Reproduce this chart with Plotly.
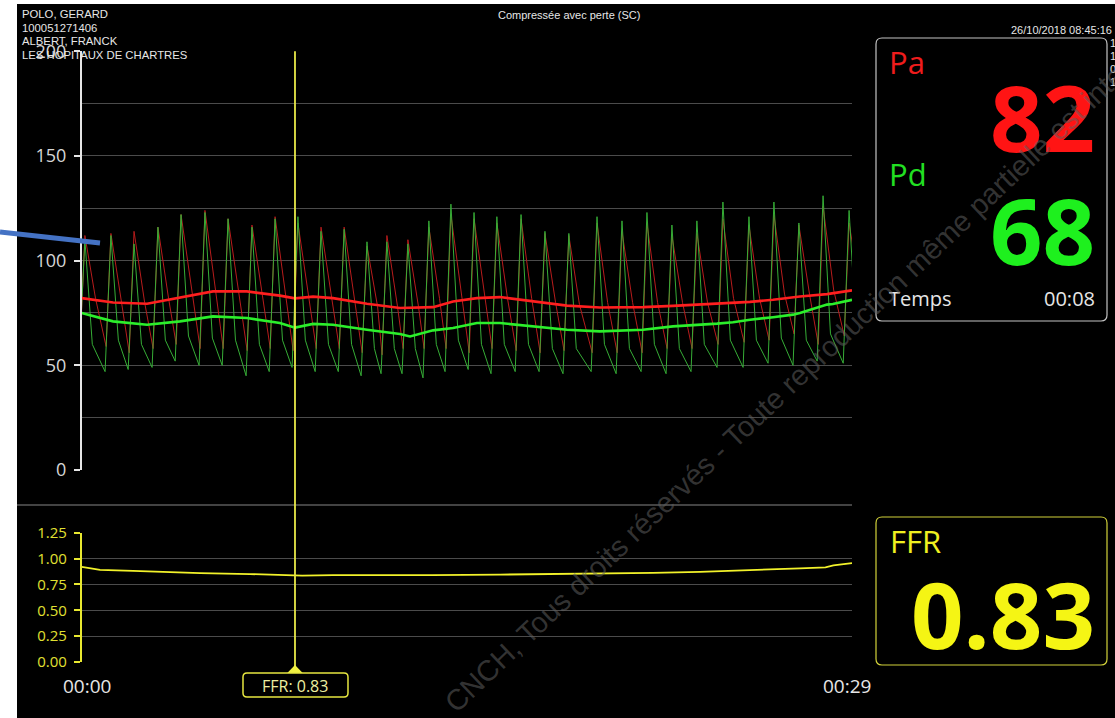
import plotly.graph_objects as go

W, H = 1115, 718

# ---------------- recorded data ----------------
# time of each systolic peak (s)
beat_t = [0.12, 1.10, 1.97, 2.87, 3.74, 4.64, 5.51, 6.41, 7.28, 8.14, 9.01,
          9.88, 10.74, 11.49, 12.28, 13.07, 13.90, 14.77, 15.63, 16.54, 17.44,
          18.34, 19.40, 20.34, 21.28, 22.22, 23.16, 24.14, 25.12, 26.06, 27.00,
          27.91, 28.89]
# distal pressure Pd per beat (mmHg): systolic peak, end of fast fall, diastolic minimum
pd_sys = [110, 112, 108, 116, 122, 123, 120, 116, 120, 121, 114, 115, 109, 109,
          108, 119, 127, 123, 121, 122, 114, 113, 121, 119, 123, 117, 119, 128,
          121, 128, 118, 131, 124]
pd_notch = [60, 62, 60, 62, 64, 63, 62, 60, 62, 62, 60, 60, 58, 58, 58, 60, 62,
            60, 60, 60, 58, 58, 60, 58, 60, 58, 60, 62, 62, 63, 62, 65, 64]
pd_dia = [52, 47, 48, 49, 52, 50, 50, 45, 47, 49, 47, 47, 45, 46, 46, 44, 47,
          48, 46, 47, 47, 46, 47, 46, 47, 46, 47, 49, 49, 51, 50, 52, 51]
# aortic pressure Pa per beat (mmHg)
pa_sys = [112, 113, 114, 116, 122, 124, 120, 117, 121, 118, 116, 116, 107, 112,
          110, 116, 122, 120, 118, 120, 113, 112, 118, 114, 118, 112, 113, 120,
          117, 122, 117, 126, 118]
pa_notch = [82, 80, 80, 82, 86, 86, 84, 83, 84, 82, 82, 82, 78, 78, 78, 82, 84,
            83, 82, 82, 80, 79, 80, 80, 80, 80, 80, 82, 82, 84, 84, 86, 86]
pa_dia = [60, 59, 56, 58, 60, 58, 58, 57, 58, 57, 58, 58, 56, 55, 58, 58, 58,
          56, 58, 57, 56, 57, 56, 56, 56, 58, 58, 60, 61, 62, 65, 60, 64]

# moving mean pressures (mmHg)
mean_t = [0.0, 1.18, 2.46, 3.70, 4.94, 6.22, 7.46, 8.03, 8.71, 9.46, 10.74,
          11.98, 12.36, 13.23, 13.98, 14.88, 15.75, 16.99, 18.27, 19.51, 21.13,
          22.26, 23.28, 23.92, 24.52, 25.16, 26.03, 26.78, 27.04, 28.06, 28.28,
          29.0]
pa_mean = [82.1, 80.0, 79.4, 82.3, 85.3, 85.3, 83.3, 82.0, 82.8, 82.1, 79.4,
           77.4, 77.6, 77.8, 80.5, 82.1, 82.6, 80.5, 78.5, 77.6, 77.8, 78.4,
           79.0, 79.4, 79.8, 80.3, 81.3, 82.4, 82.9, 84.0, 84.5, 85.8]
pd_mean = [75.0, 71.0, 69.4, 71.0, 73.4, 72.6, 70.2, 68.0, 69.8, 69.4, 67.0,
           65.0, 63.8, 66.7, 67.8, 70.2, 70.2, 68.6, 67.0, 66.2, 67.0, 68.6,
           69.2, 69.9, 70.6, 71.8, 73.0, 74.2, 75.0, 79.0, 79.3, 81.3]

# FFR = Pd / Pa
ffr_t = [0.0, 0.3, 0.69, 1.93, 3.21, 4.46, 6.34, 7.5, 8.03, 8.3, 9.46, 11.98,
         13.2, 15.75, 18.0, 19.51, 21.5, 23.28, 25.12, 27.04, 28.0, 28.3, 29.0]
ffr_val = [0.92, 0.905, 0.89, 0.88, 0.868, 0.86, 0.85, 0.84, 0.83, 0.835, 0.84,
           0.837, 0.84, 0.845, 0.85, 0.857, 0.862, 0.872, 0.885, 0.905, 0.915,
           0.935, 0.955]

cursor_t = 8.03
cursor_pa, cursor_pd, cursor_ffr = 82, 68, 0.83
y_ticks_p = [0, 50, 100, 150, 200]
y_ticks_ffr = [0.0, 0.25, 0.5, 0.75, 1.0, 1.25]
header_lines = ["POLO, GERARD", "100051271406", "ALBERT, FRANCK",
                "LES HOPITAUX DE CHARTRES"]

# ---------------- layout geometry (pixels) ----------------
X0, X1 = 81.7, 852.0
TOP_Y0, TOP_Y1 = 51.3, 470.0
BOT_Y0, BOT_Y1 = 532.7, 662.0
T_MAX = 29.0


def px(x):
    return x / W


def py(y):
    return 1 - y / H


def t2px(t):
    return X0 + t / T_MAX * (X1 - X0)


def rounded_rect(x0, y0, x1, y1, r):
    return (f"M {px(x0 + r)},{py(y0)} L {px(x1 - r)},{py(y0)} "
            f"Q {px(x1)},{py(y0)} {px(x1)},{py(y0 + r)} "
            f"L {px(x1)},{py(y1 - r)} Q {px(x1)},{py(y1)} {px(x1 - r)},{py(y1)} "
            f"L {px(x0 + r)},{py(y1)} Q {px(x0)},{py(y1)} {px(x0)},{py(y1 - r)} "
            f"L {px(x0)},{py(y0 + r)} Q {px(x0)},{py(y0)} {px(x0 + r)},{py(y0)} Z")


def pulse(peaks, sys, notch, dia, rise, fall):
    xs, ys = [], []
    for i, tp in enumerate(peaks):
        xs += [tp - rise, tp, tp + fall]
        ys += [dia[i], sys[i], notch[i]]
    return xs, ys


pa_x, pa_y = pulse(beat_t, pa_sys, pa_notch, pa_dia, 0.18, 0.40)
pd_x, pd_y = pulse(beat_t, pd_sys, pd_notch, pd_dia, 0.22, 0.28)

fig = go.Figure()
fig.add_trace(go.Scatter(x=pa_x, y=pa_y, mode="lines",
                         line=dict(color="#b81c1c", width=1), xaxis="x", yaxis="y"))
fig.add_trace(go.Scatter(x=pd_x, y=pd_y, mode="lines",
                         line=dict(color="#36ad36", width=1), xaxis="x", yaxis="y"))
fig.add_trace(go.Scatter(x=mean_t, y=pa_mean, mode="lines",
                         line=dict(color="#ff1f1f", width=2.6), xaxis="x", yaxis="y"))
fig.add_trace(go.Scatter(x=mean_t, y=pd_mean, mode="lines",
                         line=dict(color="#2bef2b", width=2.6), xaxis="x", yaxis="y"))
fig.add_trace(go.Scatter(x=ffr_t, y=ffr_val, mode="lines",
                         line=dict(color="#f2f22a", width=1.8), xaxis="x2", yaxis="y2"))

GRID = "#4b4b4b"
fig.update_layout(
    width=W, height=H, autosize=False,
    margin=dict(l=0, r=0, t=0, b=0, pad=0, autoexpand=False),
    paper_bgcolor="white", plot_bgcolor="rgba(0,0,0,0)",
    showlegend=False,
    xaxis=dict(domain=[px(X0), px(X1)], range=[0, T_MAX], visible=False,
               anchor="y", automargin=False),
    xaxis2=dict(domain=[px(X0), px(X1)], range=[0, T_MAX], visible=False,
                anchor="y2", matches="x", automargin=False),
    yaxis=dict(domain=[py(TOP_Y1), py(TOP_Y0)], range=[0, 200], anchor="x",
               automargin=False,
               tickvals=y_ticks_p, ticks="outside", ticklen=6, tickwidth=1.5,
               tickcolor="#e6e6e6", showline=True, linecolor="#e6e6e6",
               linewidth=1.5, showgrid=True, gridcolor=GRID, gridwidth=1,
               minor=dict(dtick=25, showgrid=True, gridcolor=GRID, ticks=""),
               zeroline=False, ticklabelstandoff=4,
               tickfont=dict(family="Open Sans", size=18, color="#d6d6d6")),
    yaxis2=dict(domain=[py(BOT_Y1), py(BOT_Y0)], range=[0, 1.25], anchor="x2",
                automargin=False,
                tickvals=y_ticks_ffr, tickformat=".2f", ticks="outside",
                ticklen=6, tickwidth=1.5, tickcolor="#e8e830", showline=True,
                linecolor="#e8e830", linewidth=1.5, showgrid=True,
                gridcolor=GRID, gridwidth=1, zeroline=False,
                ticklabelstandoff=4,
                tickfont=dict(family="Open Sans", size=15, color="#e0e032")),
)

cx = t2px(cursor_t)
shapes = [
    # dark screen background
    dict(type="rect", xref="paper", yref="paper", x0=px(17), x1=1,
         y0=0, y1=py(4), fillcolor="black", line=dict(width=0), layer="below"),
    # separator between the two graphs
    dict(type="line", xref="paper", yref="paper", x0=px(17), x1=px(X1),
         y0=py(505), y1=py(505), line=dict(color="#5a5a5a", width=1.5),
         layer="below"),
    # time cursor
    dict(type="line", xref="x", yref="paper", x0=cursor_t, x1=cursor_t,
         y0=py(666), y1=py(TOP_Y0), line=dict(color="#e8e848", width=1.8)),
    dict(type="path", xref="paper", yref="paper",
         path=f"M {px(cx - 7.7)},{py(673)} L {px(cx + 7.7)},{py(673)} "
              f"L {px(cx)},{py(665)} Z",
         fillcolor="#f0f040", line=dict(width=0)),
    dict(type="path", xref="paper", yref="paper",
         path=rounded_rect(cx - 52, 673, cx + 53, 697, 4),
         line=dict(color="#e6e640", width=1.5)),
    # numeric panels
    dict(type="path", xref="paper", yref="paper",
         path=rounded_rect(876, 38, 1107, 321, 6),
         line=dict(color="#c4c4c4", width=1.2)),
    dict(type="path", xref="paper", yref="paper",
         path=rounded_rect(876, 517, 1107, 665, 6),
         line=dict(color="#d2d23a", width=1.2)),
    # pointer line
    dict(type="line", xref="paper", yref="paper", x0=0, x1=px(100),
         y0=py(232), y1=py(243), line=dict(color="#4472c4", width=5)),
]
fig.update_layout(shapes=shapes)

ann = []


def text(x, y, s, size, color, family="Open Sans", xanchor="left", bold=False,
         xref="paper"):
    if bold:
        s = f"<b>{s}</b>"
    ann.append(dict(x=x if xref != "paper" else px(x), y=py(y), xref=xref,
                    yref="paper", text=s, showarrow=False, xanchor=xanchor,
                    yanchor="middle",
                    font=dict(family=family, size=size, color=color)))


for i, line in enumerate(header_lines):
    text(20, 14 + i * 13.6, line, 11.3, "#e6e6e6", family="Liberation Sans")
text(568.5, 15, "Compressée avec perte (SC)", 11, "#e6e6e6",
     family="Liberation Sans", xanchor="center")
text(1114, 30, "26/10/2018 08:45:16", 11, "#e6e6e6",
     family="Liberation Sans", xanchor="right")
for i, s in enumerate(["1", "1", "0", "1/"]):
    text(1108, 43 + i * 13, s, 11, "#e6e6e6", family="Liberation Sans")

text(87, 686, "00:00", 19, "#e6e6e6", xanchor="center")
text(847, 686, "00:29", 19, "#e6e6e6", xanchor="center")
text(cursor_t, 685.5, f"FFR: {cursor_ffr:.2f}", 16, "#eeeea0",
     xanchor="center", xref="x")

text(887, 62, "Pa", 31, "#ee1c1c")
text(1097, 117, str(cursor_pa), 92, "#ff1414", xanchor="right", bold=True)
text(887, 174, "Pd", 31, "#22e022")
text(1097, 229, str(cursor_pd), 92, "#1ef01e", xanchor="right", bold=True)
text(887, 299, "Temps", 20, "#e6e6e6")
text(1097, 299, "00:08", 20, "#e6e6e6", xanchor="right")

text(888, 541, "FFR", 31, "#f0f020")
text(1097, 613, f"{cursor_ffr:.2f}", 92, "#f5f514", xanchor="right", bold=True)

# copyright overlay
ann.append(dict(x=px(805.6), y=py(369.3), xref="paper", yref="paper",
                text="CNCH, Tous droits réservés - Toute reproduction même partielle est interdite",
                showarrow=False, textangle=-43.5, xanchor="center",
                yanchor="middle",
                font=dict(family="Liberation Sans", size=29,
                          color="rgba(95,95,95,0.55)")))

fig.update_layout(annotations=ann)
fig.write_html("out.html")
